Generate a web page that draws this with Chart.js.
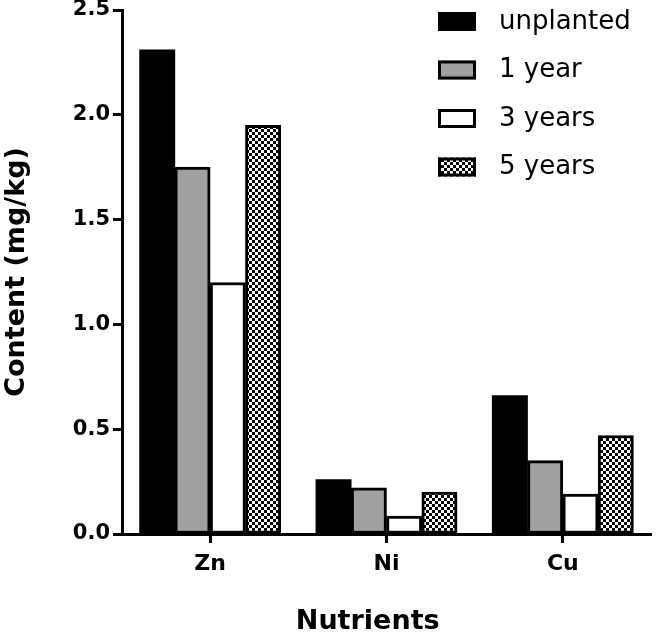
<!DOCTYPE html>
<html>
<head>
<meta charset="utf-8">
<script src="https://cdn.jsdelivr.net/npm/chart.js@4.4.1/dist/chart.umd.min.js"></script>
<style>
  body { margin: 0; background: #fff; }
  canvas { display: block; }
</style>
</head>
<body>
<canvas id="nutrientChart" width="664" height="635"></canvas>
<script>
const categories = ["Zn", "Ni", "Cu"];
const seriesNames = ["unplanted", "1 year", "3 years", "5 years"];
const unplanted = [2.31, 0.26, 0.66];
const oneYear = [1.75, 0.22, 0.35];
const threeYears = [1.20, 0.085, 0.19];
const fiveYears = [1.95, 0.20, 0.47];
const yTicks = [0, 0.5, 1.0, 1.5, 2.0, 2.5];

const FONT = "'DejaVu Sans', sans-serif";

// checkered fill for the 5 years bars
function makeChecker() {
    const c = document.createElement("canvas");
    c.width = 6;
    c.height = 6;
    const cx = c.getContext("2d");
    cx.fillStyle = "#fff";
    cx.fillRect(0, 0, 6, 6);
    cx.fillStyle = "#000";
    cx.fillRect(0, 0, 3, 3);
    cx.fillRect(3, 3, 3, 3);
    return cx.createPattern(c, "repeat");
}

const checker = makeChecker();

// legend drawn inside the plot, top right
const boxLegend = {
    id: "boxLegend",
    afterDraw(chart) {
        const ctx = chart.ctx;
        ctx.save();
        chart.data.datasets.forEach((ds, i) => {
            const y = 12 + i * 48.5;
            ctx.fillStyle = ds.backgroundColor;
            ctx.fillRect(438, y, 38, 19);
            ctx.strokeStyle = "#000";
            ctx.lineWidth = 3;
            ctx.strokeRect(439.5, y + 1.5, 35, 16);
            ctx.fillStyle = "#000";
            ctx.font = "26px " + FONT;
            ctx.textBaseline = "middle";
            ctx.textAlign = "left";
            ctx.fillText(ds.label, 499, y + 10);
        });
        ctx.restore();
    }
};

const fills = ["#000000", "#a0a0a0", "#ffffff", checker];
const borders = [0, 3, 3, 3];
const values = [unplanted, oneYear, threeYears, fiveYears];

new Chart("nutrientChart", {
    type: "bar",
    data: {
        labels: categories,
        datasets: seriesNames.map((name, i) => ({
            label: name,
            data: values[i],
            backgroundColor: fills[i],
            borderColor: "#000",
            borderWidth: borders[i],
            borderSkipped: false,
            barPercentage: 1,
            categoryPercentage: 0.8,
            barThickness: 35.3
        }))
    },
    options: {
        responsive: false,
        animation: false,
        layout: {
            padding: { top: 10, right: 13, left: 0, bottom: 0 }
        },
        plugins: {
            legend: { display: false },
            tooltip: { enabled: false }
        },
        scales: {
            x: {
                offset: true,
                grid: {
                    offset: false,
                    drawOnChartArea: false,
                    tickLength: 9,
                    tickWidth: 3,
                    tickColor: "#000"
                },
                border: { color: "#000", width: 3 },
                ticks: {
                    color: "#000",
                    padding: 8,
                    font: { family: FONT, size: 22, weight: "bold" }
                },
                title: {
                    display: true,
                    text: "Nutrients    ",
                    color: "#000",
                    padding: 0,
                    font: { family: FONT, size: 27, weight: "bold", lineHeight: 1 }
                },
                afterFit(scale) {
                    scale.height = 101;
                }
            },
            y: {
                min: 0,
                max: 2.5,
                afterBuildTicks(scale) {
                    scale.ticks = yTicks.map(v => ({ value: v }));
                },
                grid: {
                    drawOnChartArea: false,
                    tickLength: 9,
                    tickWidth: 3,
                    tickColor: "#000"
                },
                border: { color: "#000", width: 3 },
                ticks: {
                    color: "#000",
                    padding: 3,
                    font: { family: FONT, size: 21, weight: "bold", lineHeight: 1 },
                    callback: (v) => v.toFixed(1)
                },
                title: {
                    display: true,
                    text: "Content (mg/kg)",
                    color: "#000",
                    padding: { top: 3, bottom: 0 },
                    font: { family: FONT, size: 27, weight: "bold", lineHeight: 1 }
                },
                afterFit(scale) {
                    scale.width = 122;
                    scale.paddingTop = 0;
                    scale.paddingBottom = 0;
                }
            }
        }
    },
    plugins: [boxLegend]
});
</script>
</body>
</html>
